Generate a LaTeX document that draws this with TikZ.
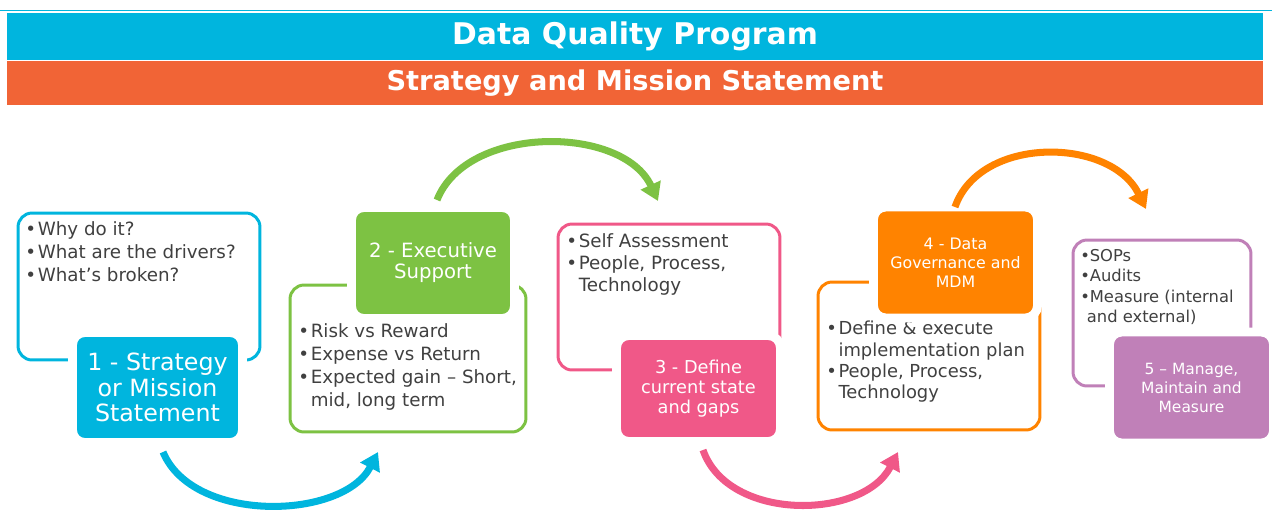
\documentclass[tikz,border=0pt]{standalone}
\usepackage{fontspec}
\setmainfont{DejaVu Sans}
\usetikzlibrary{arrows.meta, positioning}

\definecolor{dqcyan}{RGB}{0,181,222}
\definecolor{dqred}{RGB}{241,100,54}
\definecolor{dqgreen}{RGB}{125,194,67}
\definecolor{dqpink}{RGB}{240,88,136}
\definecolor{dqorange}{RGB}{255,131,0}
\definecolor{dqpurple}{RGB}{192,128,184}
\definecolor{dqtext}{RGB}{64,64,64}

\newcommand{\bul}{\makebox[0.68em][l]{\textbullet}}
\newcommand{\ind}{\hspace*{0.68em}}
\newcommand{\sbul}{\makebox[0.58em][l]{\textbullet}}
\newcommand{\sind}{\hspace*{0.4em}}

\tikzset{
  band/.style={fill=#1, draw=none, inner sep=0pt, text=white, font=\bfseries},
  outline/.style={draw=#1, line width=1.7pt, rounded corners=8pt, fill=white, inner sep=0pt},
  stepbox/.style={fill=#1, draw=white, line width=5pt, rounded corners=7pt, text=white, align=center, inner sep=0pt},
  bullets/.style={anchor=north west, inner sep=0pt, text=dqtext, align=left},
  flow/.style={draw=#1, line width=4pt, -{Triangle[length=10pt, width=12pt]}}
}

\begin{document}
\begin{tikzpicture}[x=0.02cm, y=-0.02cm]
  \useasboundingbox (0,0) rectangle (1272,511);
  \draw [dqcyan, line width=0.6pt] (0,10.5) -- (1272,10.5);

  \node (title) [band=dqcyan, minimum width=25.12cm, minimum height=0.96cm] at (635,36.5)
    {\fontsize{17}{20}\selectfont Data Quality Program};
  \node (subtitle) [band=dqred, minimum width=25.12cm, minimum height=0.88cm] at (635,83)
    {\fontsize{15.5}{18}\selectfont Strategy and Mission Statement};

  \node (o1) [outline=dqcyan, minimum width=4.84cm, minimum height=2.94cm] at (139,286.5) {};
  \node (o2) [outline=dqgreen, minimum width=4.72cm, minimum height=2.94cm] at (408,358.5) {};
  \node (o3) [outline=dqpink, minimum width=4.44cm, minimum height=2.92cm] at (669,297) {};
  \node (o4) [outline=dqorange, minimum width=4.44cm, minimum height=2.96cm] at (929,356) {};
  \node (o5) [outline=dqpurple, minimum width=3.56cm, minimum height=2.92cm] at (1162,313) {};

  \node (b1) [bullets, font=\fontsize{10.4}{13.2}\selectfont] at (25,221)
    {\bul Why do it?\\\bul What are the drivers?\\\bul What’s broken?};
  \node (b2) [bullets, font=\fontsize{10.4}{13.2}\selectfont] at (298,323)
    {\bul Risk vs Reward\\\bul Expense vs Return\\\bul Expected gain – Short,\\\ind mid, long term};
  \node (b3) [bullets, font=\fontsize{10.4}{12.5}\selectfont] at (566,233)
    {\bul Self Assessment\\\bul People, Process,\\\ind Technology};
  \node (b4) [bullets, font=\fontsize{10.2}{12}\selectfont] at (826,321)
    {\bul Define \& execute\\\ind implementation plan\\\bul People, Process,\\\ind Technology};
  \node (b5) [bullets, font=\fontsize{9.3}{11.6}\selectfont] at (1080,249)
    {\sbul SOPs\\\sbul Audits\\\sbul Measure (internal\\\sind and external)};

  \node (s1) [stepbox=dqcyan, minimum width=3.40cm, minimum height=2.20cm,
    font=\fontsize{13.5}{14.5}\selectfont] at (157.5,387.5)
    {1 - Strategy\\or Mission\\Statement};
  \node (s2) [stepbox=dqgreen, minimum width=3.26cm, minimum height=2.22cm,
    font=\fontsize{11.2}{12}\selectfont] at (433,263)
    {2 - Executive\\Support};
  \node (s3) [stepbox=dqpink, minimum width=3.28cm, minimum height=2.12cm,
    font=\fontsize{10.1}{11.3}\selectfont] at (698.5,388.5)
    {3 - Define\\current state\\and gaps};
  \node (s4) [stepbox=dqorange, minimum width=3.28cm, minimum height=2.22cm,
    font=\fontsize{9}{10.8}\selectfont] at (955.5,262.5)
    {4 - Data\\Governance and\\MDM};
  \node (s5) [stepbox=dqpurple, minimum width=3.28cm, minimum height=2.22cm,
    font=\fontsize{8.8}{10.8}\selectfont] at (1191.5,387.5)
    {5 – Manage,\\Maintain and\\Measure};

  \coordinate (a1s) at (163,452);
  \coordinate (a1e) at (378,452);
  \coordinate (a2s) at (437,200);
  \coordinate (a2e) at (658,201);
  \coordinate (a3s) at (703,450);
  \coordinate (a3e) at (898,452);
  \coordinate (a4s) at (955,207);
  \coordinate (a4e) at (1146,209);

  \draw [flow=dqcyan] (a1s) .. controls +(30,72) and +(-35,68) .. (a1e);
  \draw [flow=dqgreen] (a2s) .. controls +(30,-76) and +(-35,-76) .. (a2e);
  \draw [flow=dqpink] (a3s) .. controls +(25,72) and +(-35,68) .. (a3e);
  \draw [flow=dqorange] (a4s) .. controls +(25,-72) and +(-35,-72) .. (a4e);
\end{tikzpicture}
\end{document}
